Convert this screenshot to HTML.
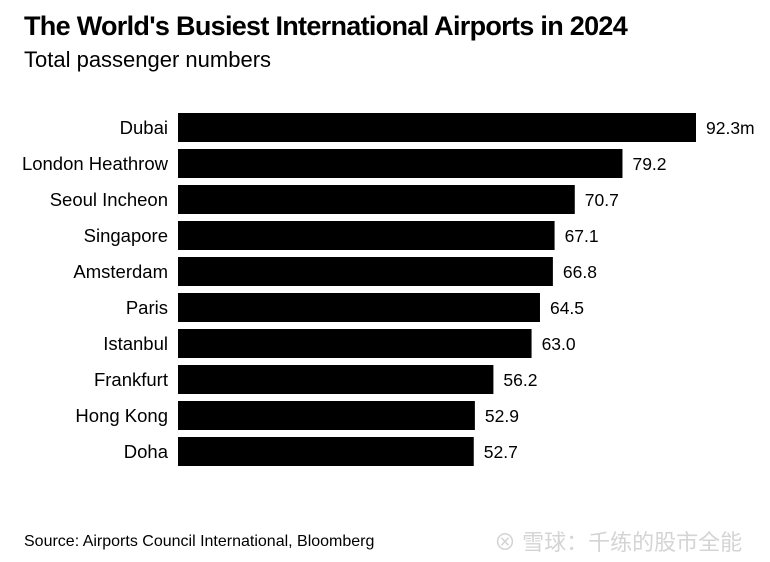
<!DOCTYPE html>
<html><head><meta charset="utf-8"><style>
body{margin:0;background:#fff;width:770px;height:562px;overflow:hidden;font-family:"Liberation Sans",sans-serif;position:relative}
.t{position:absolute;left:24px;top:11px;font-size:27px;font-weight:bold;letter-spacing:-0.7px;white-space:nowrap}
.s{position:absolute;left:24px;top:47px;font-size:22px;white-space:nowrap}
.src{position:absolute;left:24px;top:533px;font-size:16px;white-space:nowrap}
.wm{position:absolute;left:494px;top:525px;font-size:22px;color:#d4d4d4;font-family:"Liberation Sans","Noto Sans CJK SC",sans-serif;white-space:nowrap}
</style></head><body>
<div class="t">The World's Busiest International Airports in 2024</div>
<div class="s">Total passenger numbers</div>
<svg id="c" width="770" height="562" style="position:absolute;left:0;top:0"></svg>
<div class="src">Source: Airports Council International, Bloomberg</div>
<div class="wm">⊗ 雪球：千练的股市全能</div>
<script>
const categories=["Dubai","London Heathrow","Seoul Incheon","Singapore","Amsterdam","Paris","Istanbul","Frankfurt","Hong Kong","Doha"];
const values=[92.3,79.2,70.7,67.1,66.8,64.5,63.0,56.2,52.9,52.7];
const valueLabels=["92.3m","79.2","70.7","67.1","66.8","64.5","63.0","56.2","52.9","52.7"];
const svg=document.getElementById('c');const NS="http://www.w3.org/2000/svg";
const x0=178,xs=(696-178)/92.3;
const x=v=>x0+v*xs;
const y=i=>113+i*36;
categories.forEach((c,i)=>{
 const r=document.createElementNS(NS,'rect');
 r.setAttribute('x',x0);r.setAttribute('y',y(i));r.setAttribute('width',x(values[i])-x0);r.setAttribute('height',29);r.setAttribute('fill','#000');
 
 
 svg.appendChild(r);
 const l=document.createElementNS(NS,'text');
 l.setAttribute('x',168);l.setAttribute('y',y(i)+21);l.setAttribute('text-anchor','end');l.setAttribute('font-size','18.5');l.setAttribute('font-family','Liberation Sans, sans-serif');
 l.textContent=c;
 
 
 svg.appendChild(l);
 const v=document.createElementNS(NS,'text');
 v.setAttribute('x',x(values[i])+10);v.setAttribute('y',y(i)+21);v.setAttribute('font-size','17.5');v.setAttribute('font-family','Liberation Sans, sans-serif');
 v.textContent=valueLabels[i];
 
 
 svg.appendChild(v);
});
</script>
</body></html>
